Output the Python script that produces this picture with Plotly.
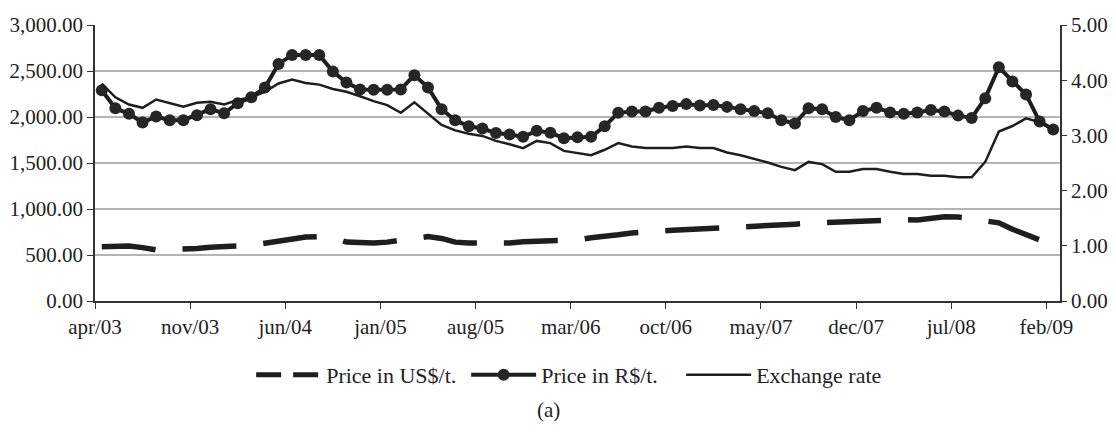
import plotly.graph_objects as go

# ---- data ----
months = ["apr/03","may/03","jun/03","jul/03","aug/03","sep/03","oct/03","nov/03","dec/03",
          "jan/04","feb/04","mar/04","apr/04","may/04","jun/04","jul/04","aug/04","sep/04","oct/04","nov/04","dec/04",
          "jan/05","feb/05","mar/05","apr/05","may/05","jun/05","jul/05","aug/05","sep/05","oct/05","nov/05","dec/05",
          "jan/06","feb/06","mar/06","apr/06","may/06","jun/06","jul/06","aug/06","sep/06","oct/06","nov/06","dec/06",
          "jan/07","feb/07","mar/07","apr/07","may/07","jun/07","jul/07","aug/07","sep/07","oct/07","nov/07","dec/07",
          "jan/08","feb/08","mar/08","apr/08","may/08","jun/08","jul/08","aug/08","sep/08","oct/08","nov/08","dec/08",
          "jan/09","feb/09"]

price_usd = [590, 595, 598, 580, 555, 560, 562, 570, 585, 590, 590, 605, 627, 650, 675, 695, 700, 690,
             640, 630, 630, 640, 665, 690, 700, 680, 640, 630, 628, 627, 630, 645, 650, 650, 650, 665,
             688, 700, 720, 740, 755, 762, 768, 775, 780, 790, 795, 798, 800, 812, 825, 835, 845, 850,
             855, 862, 870, 880, 888, 885, 880, 905, 915, 912, 900, 870, 850, 780, 720, 665, 620]

price_brl = [2290, 2095, 2035, 1940, 2005, 1965, 1965, 2020, 2085, 2040, 2150, 2215, 2320, 2575, 2675,
             2675, 2675, 2495, 2375, 2300, 2295, 2295, 2300, 2455, 2320, 2085, 1965, 1900, 1875, 1825,
             1810, 1785, 1850, 1830, 1770, 1780, 1785, 1900, 2045, 2060, 2060, 2100, 2120, 2140, 2125,
             2130, 2110, 2085, 2065, 2040, 1965, 1930, 2095, 2085, 2000, 1965, 2065, 2100, 2050, 2035,
             2050, 2075, 2060, 2015, 1990, 2205, 2540, 2385, 2245, 1950, 1865]

exchange = [3.94, 3.69, 3.56, 3.50, 3.65, 3.58, 3.52, 3.59, 3.61, 3.56, 3.64, 3.69, 3.79, 3.94, 4.01,
            3.95, 3.92, 3.84, 3.79, 3.71, 3.62, 3.55, 3.41, 3.60, 3.40, 3.19, 3.09, 3.03, 2.99, 2.90,
            2.84, 2.77, 2.90, 2.86, 2.72, 2.68, 2.64, 2.74, 2.86, 2.80, 2.77, 2.77, 2.77, 2.80, 2.77,
            2.77, 2.69, 2.64, 2.58, 2.51, 2.43, 2.37, 2.52, 2.48, 2.34, 2.34, 2.39, 2.39, 2.34, 2.30,
            2.30, 2.27, 2.27, 2.24, 2.24, 2.52, 3.07, 3.17, 3.31, 3.24, 3.11]

tick_labels = ["apr/03", "nov/03", "jun/04", "jan/05", "aug/05", "mar/06",
               "oct/06", "may/07", "dec/07", "jul/08", "feb/09"]

series_names = ["Price in US$/t.", "Price in R$/t.", "Exchange rate"]

# ---- figure ----
x = list(range(len(months)))
tick_pos = [months.index(t) - 0.5 for t in tick_labels]

FONT = "Liberation Serif, Times New Roman, serif"
INK = "#1e1e1e"
FS = 21

fig = go.Figure()

# legend-only sample for the dashed series (short dash so it reads as "— —")
fig.add_trace(go.Scatter(x=[None], y=[None], mode="lines", name=series_names[0],
                         line=dict(color=INK, width=5, dash="25px,12px"), showlegend=True))

fig.add_trace(go.Scatter(x=x, y=price_usd, mode="lines", name=series_names[0], showlegend=False,
                         text=months, line=dict(color=INK, width=5.5, dash="54px,27px")))

fig.add_trace(go.Scatter(x=x, y=price_brl, mode="lines+markers", name=series_names[1], text=months,
                         line=dict(color=INK, width=4),
                         marker=dict(size=12, color="#262626", line=dict(width=0))))

fig.add_trace(go.Scatter(x=x, y=exchange, mode="lines", name=series_names[2], yaxis="y2", text=months,
                         line=dict(color=INK, width=2.5)))

# The page body adds an 8 px offset; size the figure so the plot area lands where the reference has it.
fig.update_layout(
    width=1108, height=417,
    margin=dict(l=87, r=56, t=17, b=124, autoexpand=False),
    paper_bgcolor="white", plot_bgcolor="white",
    font=dict(family=FONT, size=FS, color="#222222"),
    showlegend=True,
    legend=dict(orientation="h", x=0.496, xanchor="center", y=-0.268, yanchor="middle",
                font=dict(family=FONT, size=22, color="#222222"), bgcolor="rgba(0,0,0,0)",
                itemwidth=65, entrywidth=135, entrywidthmode="pixels"),
    xaxis=dict(range=[-0.5, len(months) - 0.5], tickmode="array", tickvals=tick_pos, ticktext=tick_labels,
               ticks="outside", ticklen=6, tickwidth=1.3, tickcolor="#333", automargin=False,
               showline=True, linecolor="#333", linewidth=1.5, showgrid=False, zeroline=False,
               tickfont=dict(family=FONT, size=FS, color="#222")),
    yaxis=dict(range=[0, 3000], tickmode="array", tickvals=[0, 500, 1000, 1500, 2000, 2500, 3000],
               tickformat=",.2f", ticks="outside", ticklen=6, tickwidth=1.3, tickcolor="#333",
               showline=True, linecolor="#333", linewidth=1.5, automargin=False,
               showgrid=True, gridcolor="#b4b4b4", gridwidth=1.5, zeroline=False,
               tickfont=dict(family=FONT, size=FS, color="#222")),
    yaxis2=dict(range=[0, 5], overlaying="y", side="right", tickmode="array",
                tickvals=[0, 1, 2, 3, 4, 5], tickformat=".2f", automargin=False,
                ticks="outside", ticklen=5, tickwidth=1.3, tickcolor="#333", ticklabelstandoff=0,
                showline=True, linecolor="#333", linewidth=1.5, showgrid=False, zeroline=False,
                tickfont=dict(family=FONT, size=FS, color="#222")),
    annotations=[dict(text="(a)", xref="paper", yref="paper", x=0.47, y=-0.395,
                      xanchor="center", yanchor="middle", showarrow=False,
                      font=dict(family=FONT, size=FS, color="#222"))],
)

fig.write_html("out.html")
